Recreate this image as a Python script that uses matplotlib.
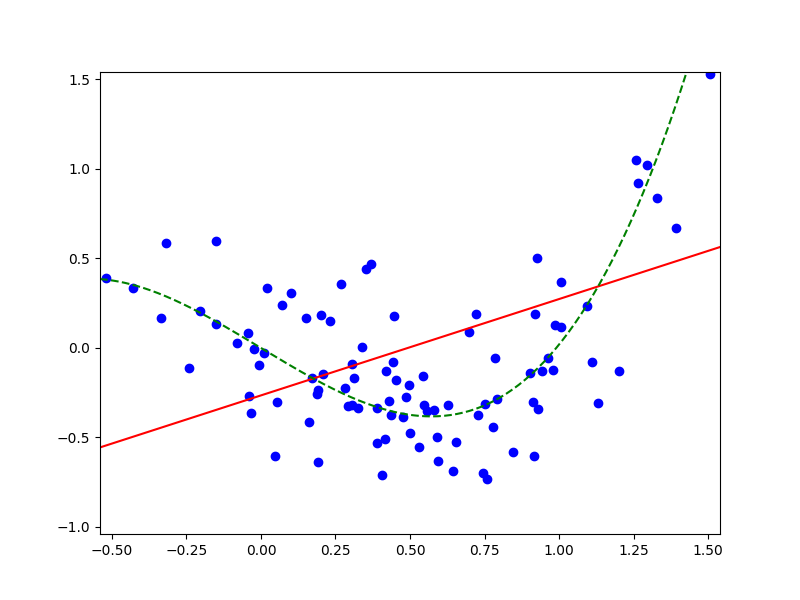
import numpy as np
import matplotlib
matplotlib.use('Agg')
import matplotlib.pyplot as plt

# точки
x = np.array([
    -0.521, -0.428, -0.318, -0.334, -0.151, -0.240, -0.203, -0.150, -0.079, -0.043,
    -0.024, -0.040, -0.034, 0.010, -0.006, 0.021, 0.055, 0.047, 0.070, 0.102,
    0.152, 0.162, 0.171, 0.191, 0.189, 0.192, 0.201, 0.209, 0.231, 0.268,
    0.283, 0.292, 0.305, 0.312, 0.306, 0.325, 0.339, 0.354, 0.368, 0.389,
    0.388, 0.417, 0.407, 0.430, 0.437, 0.419, 0.444, 0.446, 0.453, 0.477,
    0.485, 0.497, 0.500, 0.544, 0.529, 0.547, 0.557, 0.581, 0.592, 0.594,
    0.628, 0.645, 0.655, 0.698, 0.722, 0.728, 0.745, 0.759, 0.752, 0.779,
    0.784, 0.792, 0.846, 0.902, 0.913, 0.930, 0.915, 0.925, 0.919, 0.943,
    0.963, 0.980, 0.986, 1.007, 1.007, 1.094, 1.111, 1.131, 1.201, 1.258,
    1.295, 1.265, 1.328, 1.391, 1.506])
y = np.array([
    0.392, 0.333, 0.584, 0.165, 0.596, -0.113, 0.204, 0.135, 0.025, 0.081,
    -0.005, -0.270, -0.366, -0.031, -0.098, 0.333, -0.303, -0.607, 0.238, 0.306,
    0.165, -0.415, -0.167, -0.236, -0.257, -0.640, 0.182, -0.147, 0.150, 0.357,
    -0.225, -0.326, -0.322, -0.171, -0.091, -0.338, 0.004, 0.439, 0.469, -0.338,
    -0.534, -0.510, -0.708, -0.299, -0.378, -0.131, -0.079, 0.178, -0.182, -0.389,
    -0.275, -0.206, -0.478, -0.158, -0.556, -0.320, -0.352, -0.346, -0.501, -0.633,
    -0.322, -0.689, -0.529, 0.087, 0.187, -0.378, -0.702, -0.735, -0.314, -0.445,
    -0.057, -0.288, -0.583, -0.143, -0.303, -0.341, -0.607, 0.501, 0.187, -0.130,
    -0.059, -0.126, 0.126, 0.366, 0.115, 0.232, -0.081, -0.310, -0.131, 1.049,
    1.021, 0.920, 0.838, 0.668, 1.527])

# коэффициенты прямых (старшая степень первой)
lin_coef = [0.538, -0.266]
cub_coef = [1.017, 0.007, -1.005, -0.001]

xlim = (-0.54, 1.54)
ylim = (-1.04, 1.54)

xx = np.linspace(xlim[0], xlim[1], 300)

plt.figure(figsize=(8, 6), dpi=100)
plt.plot(x, y, 'bo')
plt.plot(xx, np.polyval(lin_coef, xx), 'r-')
plt.plot(xx, np.polyval(cub_coef, xx), 'g--')
plt.xlim(xlim)
plt.ylim(ylim)
plt.savefig('out.png')
